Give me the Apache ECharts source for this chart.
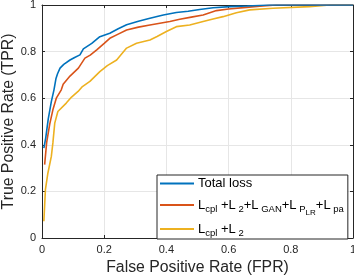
<!DOCTYPE html>
<html><head><meta charset="utf-8">
<script src="https://cdn.jsdelivr.net/npm/echarts@6/dist/echarts.min.js"></script>
<style>html,body{margin:0;padding:0;background:#fff}#c{width:354px;height:279px}</style>
</head><body><div id="c"></div>
<script>
const xTicks = [0, 0.2, 0.4, 0.6, 0.8, 1];
const yTicks = [0, 0.2, 0.4, 0.6, 0.8, 1];
const seriesNames = ['Total loss', 'Lcpl+L2+LGAN+LPLR+Lpa', 'Lcpl+L2'];
const totalLoss = [[0.006,0.386],[0.012,0.43],[0.02,0.51],[0.03,0.585],[0.0385,0.636],[0.045,0.685],[0.05,0.705],[0.058,0.729],[0.07,0.745],[0.09,0.764],[0.105,0.775],[0.122,0.786],[0.133,0.812],[0.16,0.835],[0.186,0.864],[0.218,0.879],[0.245,0.898],[0.272,0.915],[0.31,0.93],[0.347,0.943],[0.39,0.957],[0.432,0.968],[0.47,0.973],[0.507,0.981],[0.55,0.988],[0.604,0.993],[0.66,0.996],[0.73,1.0],[1,1]];
const fullLoss = [[0.0085,0.315],[0.015,0.41],[0.025,0.49],[0.035,0.55],[0.046,0.60],[0.062,0.636],[0.068,0.66],[0.09,0.695],[0.117,0.729],[0.138,0.772],[0.155,0.785],[0.176,0.807],[0.2,0.835],[0.218,0.857],[0.245,0.875],[0.272,0.893],[0.31,0.905],[0.347,0.914],[0.411,0.929],[0.443,0.939],[0.48,0.948],[0.518,0.957],[0.561,0.976],[0.6,0.983],[0.657,0.99],[0.7,0.995],[0.753,1.0],[1,1]];
const baseLoss = [[0.006,0.072],[0.011,0.208],[0.019,0.279],[0.03,0.35],[0.035,0.408],[0.041,0.493],[0.051,0.543],[0.078,0.579],[0.095,0.605],[0.116,0.629],[0.13,0.65],[0.154,0.672],[0.186,0.714],[0.21,0.74],[0.24,0.764],[0.272,0.815],[0.304,0.836],[0.347,0.85],[0.37,0.865],[0.4,0.886],[0.432,0.907],[0.475,0.914],[0.518,0.929],[0.55,0.94],[0.582,0.95],[0.625,0.967],[0.668,0.979],[0.743,0.986],[0.86,0.993],[0.925,1.0],[1,1]];
const colors = ['#0072BD', '#D95319', '#EDB120'];

const FONT = 'Liberation Sans';
const chart = echarts.init(document.getElementById('c'));
const labelsFmt = v => (xTicks.indexOf(v) >= 0 ? String(v) : '');
const legendText = {
  'Total loss': '{m|Total loss}',
  'Lcpl+L2+LGAN+LPLR+Lpa': '{m|L}{s|cpl}{m| +L}{s| 2}{m|+L}{s| GAN}{m|+L}{s| P}{ss|LR}{m|+L}{s| pa}',
  'Lcpl+L2': '{m|L}{s|cpl}{m| +L}{s| 2}'
};
const baseAxis = {
  type: 'value', min: 0, max: 1, interval: 0.2,
  axisLine: { show: true, onZero: false, lineStyle: { color: '#262626', width: 1 } },
  axisTick: { show: true, inside: true, length: 3, lineStyle: { color: '#262626' } },
  splitLine: { show: false }
};
chart.setOption({
  animation: false,
  color: colors,
  grid: { left: 42, right: 1, top: 5, bottom: 41, containLabel: false, outerBoundsMode: 'none' },
  xAxis: [
    Object.assign({}, baseAxis, {
      position: 'bottom',
      name: 'False Positive Rate (FPR)', nameLocation: 'middle', nameGap: 22, nameMoveOverlap: false,
      nameTextStyle: { fontFamily: FONT, fontSize: 15.8, color: '#262626' },
      axisLabel: { fontFamily: FONT, fontSize: 11, color: '#262626', margin: 6, formatter: labelsFmt },
      splitLine: { show: true, lineStyle: { color: '#e6e6e6', width: 1 } }
    }),
    Object.assign({}, baseAxis, { position: 'top', axisLabel: { show: false } })
  ],
  yAxis: [
    Object.assign({}, baseAxis, {
      position: 'left',
      name: 'True Positive Rate (TPR)', nameLocation: 'middle', nameGap: 25, nameMoveOverlap: false,
      nameTextStyle: { fontFamily: FONT, fontSize: 15.8, color: '#262626' },
      axisLabel: { fontFamily: FONT, fontSize: 11, color: '#262626', margin: 6, formatter: v => (yTicks.indexOf(v) >= 0 ? String(v) : '') },
      splitLine: { show: true, lineStyle: { color: '#e6e6e6', width: 1 } }
    }),
    Object.assign({}, baseAxis, { position: 'right', axisLabel: { show: false } })
  ],
  legend: {
    orient: 'vertical', left: 157, bottom: 40,
    width: 196,
    padding: [2, 4, 1, 3], itemGap: 3,
    backgroundColor: '#fff', borderColor: '#262626', borderWidth: 1,
    itemWidth: 34, itemHeight: 2, icon: 'rect',
    data: seriesNames,
    formatter: n => legendText[n],
    textStyle: {
      fontFamily: FONT, color: '#000', padding: [0, 0, 0, -1],
      rich: {
        m: { fontFamily: FONT, fontSize: 13, color: '#000', lineHeight: 18 },
        s: { fontFamily: FONT, fontSize: 9.5, color: '#000', padding: [8, 0, 0, 0], lineHeight: 18 },
        ss: { fontFamily: FONT, fontSize: 8, color: '#000', padding: [16, 0, 0, 0], lineHeight: 18 }
      }
    }
  },
  series: [
    { name: seriesNames[0], type: 'line', data: totalLoss, showSymbol: false, symbol: 'none', lineStyle: { width: 1.6, color: colors[0] }, itemStyle: { color: colors[0] }, z: 4 },
    { name: seriesNames[1], type: 'line', data: fullLoss, showSymbol: false, symbol: 'none', lineStyle: { width: 1.6, color: colors[1] }, itemStyle: { color: colors[1] }, z: 3 },
    { name: seriesNames[2], type: 'line', data: baseLoss, showSymbol: false, symbol: 'none', lineStyle: { width: 1.6, color: colors[2] }, itemStyle: { color: colors[2] }, z: 2 }
  ]
});
</script></body></html>
